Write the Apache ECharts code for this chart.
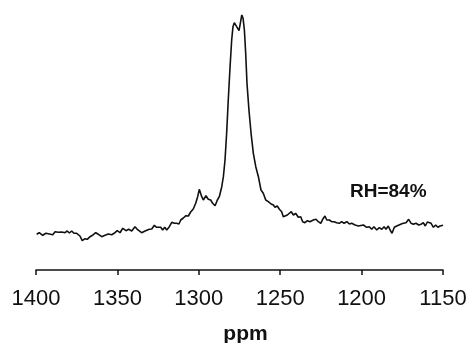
<!DOCTYPE html>
<html>
<head>
<meta charset="utf-8">
<script src="https://cdn.jsdelivr.net/npm/echarts@6/dist/echarts.min.js"></script>
<style>
html, body { margin: 0; padding: 0; background: #fff; }
#main { width: 469px; height: 343px; }
</style>
</head>
<body>
<div id="main"></div>
<script>
// chemical shift (ppm) and intensity
var ppm = [
    1399.6, 1398.0, 1395.9, 1393.9, 1391.8, 1389.7, 1388.3, 1386.3, 1384.2, 1382.2,
    1380.8, 1379.5, 1378.1, 1376.7, 1375.0, 1373.0, 1371.6, 1369.9, 1368.5, 1366.8,
    1364.8, 1363.3, 1361.7, 1359.6, 1357.6, 1355.6, 1353.5, 1351.5, 1350.1, 1348.4,
    1346.7, 1344.7, 1343.1, 1341.2, 1339.2, 1337.8, 1336.7, 1335.1, 1333.0, 1330.4,
    1328.9, 1327.3, 1325.9, 1324.9, 1323.4, 1322.2, 1320.9, 1319.7, 1318.1, 1316.6,
    1315.0, 1313.6, 1312.2, 1311.1, 1309.5, 1307.9, 1306.4, 1305.0, 1303.4, 1301.9,
    1300.7, 1299.7, 1298.2, 1297.2, 1295.6, 1294.2, 1292.7, 1291.5, 1290.0, 1288.6,
    1287.4, 1285.9, 1284.9, 1283.9, 1282.9, 1281.9, 1280.8, 1279.8, 1279.0, 1278.2,
    1277.1, 1276.1, 1275.3, 1274.5, 1273.6, 1272.8, 1272.0, 1271.2, 1270.4, 1269.2,
    1267.9, 1266.5, 1265.0, 1263.4, 1261.8, 1260.4, 1258.9, 1257.3, 1255.6, 1254.2,
    1253.2, 1251.8, 1250.5, 1249.1, 1248.1, 1247.0, 1245.6, 1244.4, 1243.2, 1241.9,
    1240.5, 1238.9, 1237.4, 1236.2, 1234.8, 1233.3, 1231.7, 1229.7, 1228.0, 1226.6,
    1225.1, 1223.9, 1222.5, 1221.4, 1219.8, 1218.4, 1216.9, 1215.3, 1213.7, 1212.2,
    1210.8, 1209.1, 1207.5, 1206.1, 1204.0, 1202.0, 1201.0, 1198.9, 1196.9, 1195.3,
    1193.8, 1192.4, 1190.7, 1189.1, 1187.6, 1186.2, 1185.0, 1183.6, 1182.5, 1181.3,
    1179.9, 1178.4, 1177.2, 1176.0, 1174.4, 1172.7, 1171.1, 1169.6, 1168.2, 1166.6,
    1164.9, 1163.5, 1162.1, 1160.9, 1159.6, 1158.6, 1157.3, 1155.9, 1154.5, 1153.2,
    1151.8, 1150.0
];
var intensity = [
    35.7, 37.3, 34.7, 36.7, 36.0, 35.3, 38.3, 37.7, 38.0, 37.3,
    39.0, 37.0, 39.0, 36.7, 36.7, 34.0, 29.3, 31.3, 30.7, 33.3,
    35.3, 37.3, 35.7, 33.3, 34.7, 36.0, 35.3, 37.3, 39.3, 37.3,
    41.7, 39.3, 40.7, 39.0, 43.3, 40.7, 40.7, 37.3, 39.0, 40.7,
    41.0, 44.7, 42.7, 41.0, 42.7, 40.0, 42.7, 40.0, 43.3, 47.7,
    46.7, 46.7, 46.0, 50.0, 52.0, 54.3, 54.0, 58.0, 61.0, 66.7,
    73.3, 80.7, 73.3, 70.0, 74.3, 70.7, 70.0, 66.7, 64.3, 70.0,
    73.3, 83.3, 93.3, 110.0, 136.7, 170.0, 203.3, 230.0, 243.3, 247.3,
    246.7, 241.7, 239.3, 246.7, 255.0, 251.7, 240.0, 216.7, 186.7, 160.0,
    136.7, 116.7, 103.3, 93.3, 80.0, 76.7, 70.0, 68.3, 66.0, 65.0,
    62.7, 64.0, 60.7, 58.3, 53.3, 51.7, 55.0, 53.3, 58.3, 55.0,
    56.7, 52.7, 53.3, 48.3, 47.3, 49.3, 48.3, 50.0, 50.7, 48.3,
    46.7, 50.7, 54.0, 50.0, 50.0, 48.3, 48.3, 47.3, 46.7, 48.3,
    46.7, 48.3, 46.0, 46.7, 45.0, 44.0, 44.0, 45.0, 42.7, 43.3,
    40.7, 43.3, 40.0, 42.3, 40.7, 43.3, 40.7, 44.0, 40.0, 36.7,
    42.7, 44.0, 42.7, 45.7, 46.7, 47.3, 50.7, 46.7, 45.7, 46.7,
    45.0, 45.7, 47.3, 44.0, 48.0, 49.3, 46.7, 42.7, 45.0, 42.7,
    44.0, 44.7
];
var ticks = [1400, 1350, 1300, 1250, 1200, 1150];

var points = [];
for (var i = 0; i < ppm.length; i++) {
    points.push([ppm[i], intensity[i]]);
}

var myChart = echarts.init(document.getElementById('main'));
myChart.setOption({
    animation: false,
    backgroundColor: '#ffffff',
    grid: { left: 36, right: 26, top: 10, bottom: 73, containLabel: false, outerBoundsMode: 'none' },
    xAxis: {
        type: 'value',
        inverse: true,
        min: ticks[ticks.length - 1],
        max: ticks[0],
        interval: 50,
        name: 'ppm',
        nameLocation: 'middle',
        nameGap: 54,
        nameTextStyle: {
            color: '#111',
            fontFamily: 'Liberation Sans, Arial, sans-serif',
            fontWeight: 'bold',
            fontSize: 21,
            padding: [0, 0, 0, 12]
        },
        splitLine: { show: false },
        axisLine: { lineStyle: { color: '#111', width: 1.5 } },
        axisTick: { length: 5, lineStyle: { color: '#111', width: 1.5 } },
        axisLabel: {
            color: '#111',
            fontFamily: 'Liberation Sans, Arial, sans-serif',
            fontSize: 22,
            margin: 18,
            formatter: function (v) { return String(v); }
        }
    },
    yAxis: {
        type: 'value',
        min: 0,
        max: 260,
        show: false
    },
    graphic: [{
        type: 'text',
        left: 350,
        top: 182,
        style: {
            text: 'RH=84%',
            fill: '#111',
            font: 'bold 19px "Liberation Sans", Arial, sans-serif'
        }
    }],
    series: [{
        type: 'line',
        data: points,
        showSymbol: false,
        smooth: false,
        lineStyle: { color: '#111', width: 1.6 }
    }]
});
</script>
</body>
</html>
